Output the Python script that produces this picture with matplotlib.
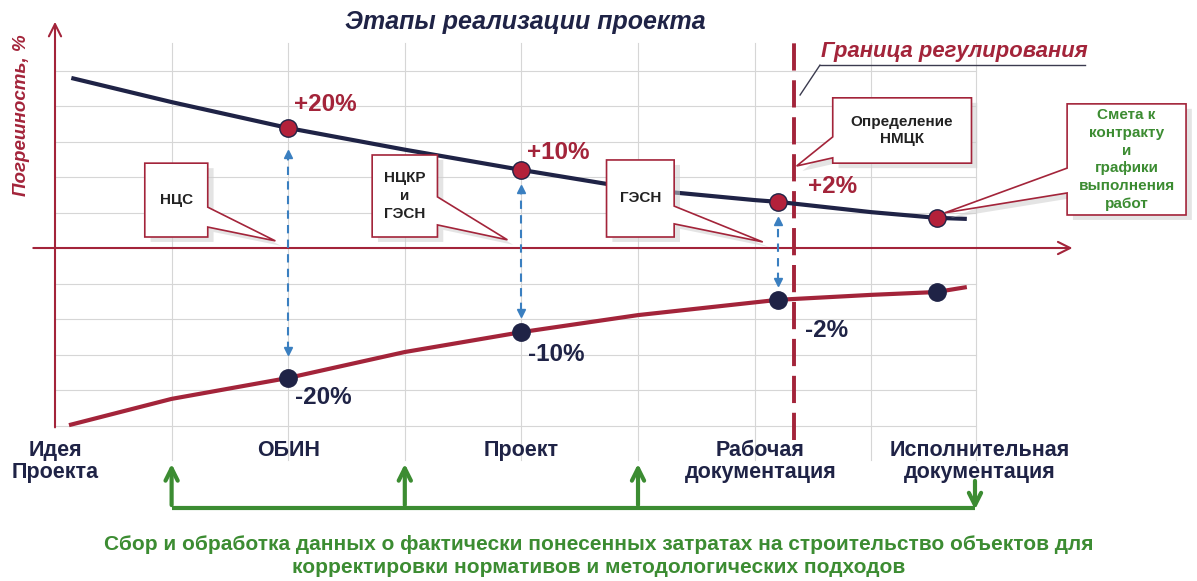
import matplotlib.pyplot as plt
from matplotlib.patches import Polygon

# --- data (x: stage grid units, y: grid units of error) ---
upper_x = [0.14, 1.0, 2.0, 3.0, 4.0, 5.0, 6.0, 6.2, 7.0, 7.56, 7.82]
upper_y = [4.79, 4.11, 3.38, 2.77, 2.20, 1.66, 1.35, 1.30, 1.01, 0.85, 0.82]
lower_x = [0.12, 1.0, 2.0, 3.0, 4.0, 5.0, 6.2, 7.0, 7.56, 7.82]
lower_y = [-4.99, -4.25, -3.66, -2.93, -2.37, -1.89, -1.46, -1.32, -1.24, -1.10]

point_x = [2.0, 4.0, 6.2, 7.56]
point_up = [3.38, 2.20, 1.30, 0.85]
point_lo = [-3.66, -2.37, -1.46, -1.24]
up_labels = ['+20%', '+10%', '+2%']
lo_labels = ['-20%', '-10%', '-2%']

stage_x = [0.0, 2.0, 4.0, 6.05, 7.93]
stage_labels = ['Идея\nПроекта', 'ОБИН', 'Проект', 'Рабочая\nдокументация',
                'Исполнительная\nдокументация']
grid_x = [1, 2, 3, 4, 5, 6, 7, 7.9]
grid_y = [-5, -4, -3, -2, -1, 1, 2, 3, 4, 5]
feedback_x = [1, 3, 5]
border_x = 6.34

NAVY = '#1f2346'
RED = '#a3243a'
GREEN = '#3c8c32'
BLUE = '#3a7fc0'
GRID = '#d6d6d6'

plt.rcParams['font.family'] = ['Liberation Sans', 'DejaVu Sans']

fig = plt.figure(figsize=(11.97, 5.81), dpi=100)
ax = fig.add_axes([0, 0, 1, 1])
ax.set_xlim(-0.4717, 9.794)
ax.set_ylim(-9.38, 6.986)
ax.axis('off')

# grid
for gx in grid_x:
    ax.plot([gx, gx], [-5.97, 5.77], color=GRID, lw=0.8, zorder=1)
for gy in grid_y:
    ax.plot([0, 7.9], [gy, gy], color=GRID, lw=0.8, zorder=1)

# axes with arrows
ax.annotate('', xy=(0, 6.45), xytext=(0, -5.13),
            arrowprops=dict(arrowstyle='->', color=RED, lw=1.5, mutation_scale=22), zorder=2)
ax.annotate('', xy=(8.75, 0), xytext=(-0.21, 0),
            arrowprops=dict(arrowstyle='->', color=RED, lw=1.5, mutation_scale=22), zorder=2)

# regulation border
ax.plot([border_x, border_x], [-5.41, 5.86], color=RED, lw=2.8,
        dashes=(7, 2.5), zorder=3)

# curves
ax.plot(upper_x, upper_y, color=NAVY, lw=3, solid_capstyle='butt', zorder=4)
ax.plot(lower_x, lower_y, color=RED, lw=3, solid_capstyle='butt', zorder=4)

# blue dashed double arrows between curves
arrow_top = [2.76, 1.75, 0.85]
arrow_bot = [-3.01, -1.92, -1.07]
for px_, t, b in zip(point_x[:3], arrow_top, arrow_bot):
    ax.plot([px_, px_], [b + 0.15, t - 0.15], color=BLUE, lw=1.5, dashes=(4, 3), zorder=3)
    ax.plot(px_, t - 0.1, marker='^', color=BLUE, ms=6, zorder=3)
    ax.plot(px_, b + 0.1, marker='v', color=BLUE, ms=6, zorder=3)

# points
ax.plot(point_x, point_up, 'o', ms=12.5, mfc='#b3213a', mec=NAVY, mew=1, zorder=5)
ax.plot(point_x, point_lo, 'o', ms=12.5, mfc=NAVY, mec=NAVY, mew=1, zorder=5)

up_lbl_pos = [(2.05, 4.03), (4.05, 2.68), (6.46, 1.72)]
lo_lbl_pos = [(2.06, -4.2), (4.06, -2.99), (6.43, -2.31)]
for txt, (lx, ly) in zip(up_labels, up_lbl_pos):
    ax.text(lx, ly, txt, color=RED, fontsize=17.5, fontweight='bold', ha='left', va='center', zorder=6)
for txt, (lx, ly) in zip(lo_labels, lo_lbl_pos):
    ax.text(lx, ly, txt, color=NAVY, fontsize=17.5, fontweight='bold', ha='left', va='center', zorder=6)


# callout boxes with tails
def callout(x0, x1, y0, y1, side, base_a, base_b, tip, text, color):
    if side == 'right':
        pts = [(x0, y1), (x1, y1), (x1, base_a), tip, (x1, base_b), (x1, y0), (x0, y0)]
    else:
        pts = [(x0, y1), (x1, y1), (x1, y0), (x0, y0), (x0, base_b), tip, (x0, base_a)]
    sx, sy = 0.05, -0.14
    shadow = Polygon([(p[0] + sx, p[1] + sy) for p in pts], closed=True,
                     facecolor='#cfcfcf', edgecolor='none', alpha=0.55, zorder=6)
    ax.add_patch(shadow)
    box = Polygon(pts, closed=True, facecolor='white', edgecolor=RED, lw=1.2, zorder=7)
    ax.add_patch(box)
    ax.text((x0 + x1) / 2, (y0 + y1) / 2, text, ha='center', va='center', fontsize=11,
            fontweight='bold', color=color, linespacing=1.35, zorder=8)


callout(0.77, 1.31, 0.31, 2.39, 'right', 1.15, 0.59, (1.89, 0.2), 'НЦС', '#222222')
callout(2.72, 3.28, 0.31, 2.62, 'right', 1.44, 0.65, (3.88, 0.23), 'НЦКР\nи\nГЭСН', '#222222')
callout(4.73, 5.31, 0.31, 2.48, 'right', 1.18, 0.68, (6.07, 0.17), 'ГЭСН', '#222222')
callout(6.67, 7.86, 2.39, 4.23, 'left', 3.13, 2.54, (6.36, 2.31), 'Определение\nНМЦК', '#222222')
callout(8.68, 9.70, 0.93, 4.06, 'left', 2.25, 1.55, (7.63, 0.99),
        'Смета к\nконтракту\nи\nграфики\nвыполнения\nработ', GREEN)

# titles
ax.text(4.03, 6.38, 'Этапы реализации проекта', ha='center', va='center', fontsize=18,
        fontstyle='italic', fontweight='bold', color=NAVY)
ax.text(6.57, 5.25, 'Граница регулирования', ha='left', va='bottom', fontsize=15.8,
        fontstyle='italic', fontweight='bold', color=RED)
ax.plot([6.56, 8.83], [5.15, 5.15], color='#3b3b4f', lw=1)
ax.plot([6.56, 6.39], [5.15, 4.31], color='#3b3b4f', lw=1)
ax.text(-0.29, 3.75, 'Погрешность, %', rotation=90, ha='center', va='center', fontsize=13.5,
        fontstyle='italic', fontweight='bold', color=RED)

# stage labels
for sx_, lab in zip(stage_x, stage_labels):
    ax.text(sx_, -5.42, lab, ha='center', va='top', fontsize=15.5, fontweight='bold',
            color=NAVY, linespacing=1.05)

# feedback arrows
ax.plot([feedback_x[0], 7.89], [-7.32, -7.32], color=GREEN, lw=3, solid_capstyle='butt')
for fx in feedback_x:
    ax.annotate('', xy=(fx, -6.0), xytext=(fx, -7.32),
                arrowprops=dict(arrowstyle='->', color=GREEN, lw=3, mutation_scale=22))
ax.annotate('', xy=(7.89, -7.45), xytext=(7.89, -6.48),
            arrowprops=dict(arrowstyle='->', color=GREEN, lw=3, mutation_scale=22))

ax.text(4.66, -8.35, 'Сбор и обработка данных о фактически понесенных затратах на строительство объектов для',
        ha='center', va='center', fontsize=15, fontweight='bold', color=GREEN)
ax.text(4.66, -9.0, 'корректировки нормативов и методологических подходов',
        ha='center', va='center', fontsize=15, fontweight='bold', color=GREEN)

fig.savefig('out.png', dpi=100)
